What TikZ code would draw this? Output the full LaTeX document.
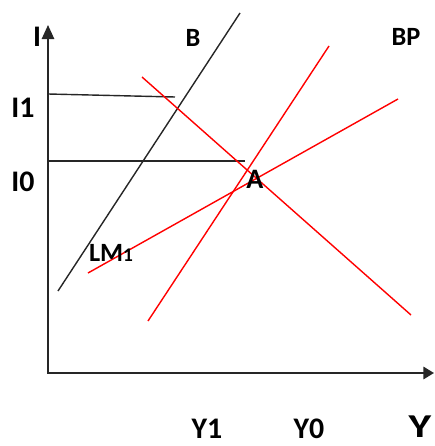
\documentclass[tikz,border=0pt]{standalone}
\usepackage{fontspec}
\setmainfont{Carlito}
\usetikzlibrary{arrows.meta}
\colorlet{CurveRed}{red}
\colorlet{InkGray}{black!85}

\begin{document}
\begin{tikzpicture}[
      x=0.02cm,y=-0.02cm,
      axis/.style={line width=1.1pt,InkGray,{Triangle[length=8pt,width=7pt]}-{Triangle[length=6pt,width=7pt]}},
      curve/.style={line width=0.8pt,CurveRed},
      guide/.style={line width=0.8pt,InkGray},
      lbl/.style={font=\bfseries\fontsize{17}{17}\selectfont,inner sep=0pt,text=black}
    ]
    \useasboundingbox (0,0) rectangle (434,446);
    % axes
    \coordinate (ytip) at (48,25);
    \coordinate (orig) at (48,373);
    \coordinate (xtip) at (434,373);
    \draw[axis] (ytip) -- (orig) -- (xtip);
    % curve ends
    \coordinate (bLow) at (58,291);
    \coordinate (bHigh) at (240,13);
    \coordinate (isHigh) at (142,77);
    \coordinate (isLow) at (411,315);
    \coordinate (lmLow) at (148,321);
    \coordinate (lmHigh) at (329,46);
    \coordinate (bpLow) at (88,273);
    \coordinate (bpHigh) at (398,99);
    \coordinate (iOneL) at (48,94);
    \coordinate (iOneR) at (175,97);
    \coordinate (iZeroL) at (48,161);
    \coordinate (iZeroR) at (245,161);
    \draw[guide] (bLow) -- (bHigh);
    \draw[guide] (iOneL) -- (iOneR);
    \draw[guide] (iZeroL) -- (iZeroR);
    \draw[curve] (isHigh) -- (isLow);
    \draw[curve] (lmLow) -- (lmHigh);
    \draw[curve] (bpLow) -- (bpHigh);
    % labels
    \node[lbl] (iAxis) at (37,37) {I};
    \node[lbl] (iOne) at (23,108) {I1};
    \node[lbl] (iZero) at (23,182) {I0};
    \node[lbl,font=\bfseries\fontsize{15}{15}\selectfont] (bLbl) at (193,38) {B};
    \node[lbl,font=\bfseries\fontsize{15}{15}\selectfont] (bpLbl) at (406,37) {BP};
    \node[lbl,font=\bfseries\fontsize{16}{16}\selectfont] (aLbl) at (255,179) {A};
    \node[lbl,font=\bfseries\fontsize{15}{15}\selectfont] (lmLbl) at (111,253) {LM{\fontsize{11}{11}\selectfont 1}};
    \node[lbl] (yOne) at (207,429) {Y1};
    \node[lbl] (yZero) at (309,429) {Y0};
    \node[lbl,font=\bfseries\fontsize{19}{19}\selectfont,xscale=1.3,transform shape] (yAxis) at (420,427) {Y};
  \end{tikzpicture}
\end{document}
